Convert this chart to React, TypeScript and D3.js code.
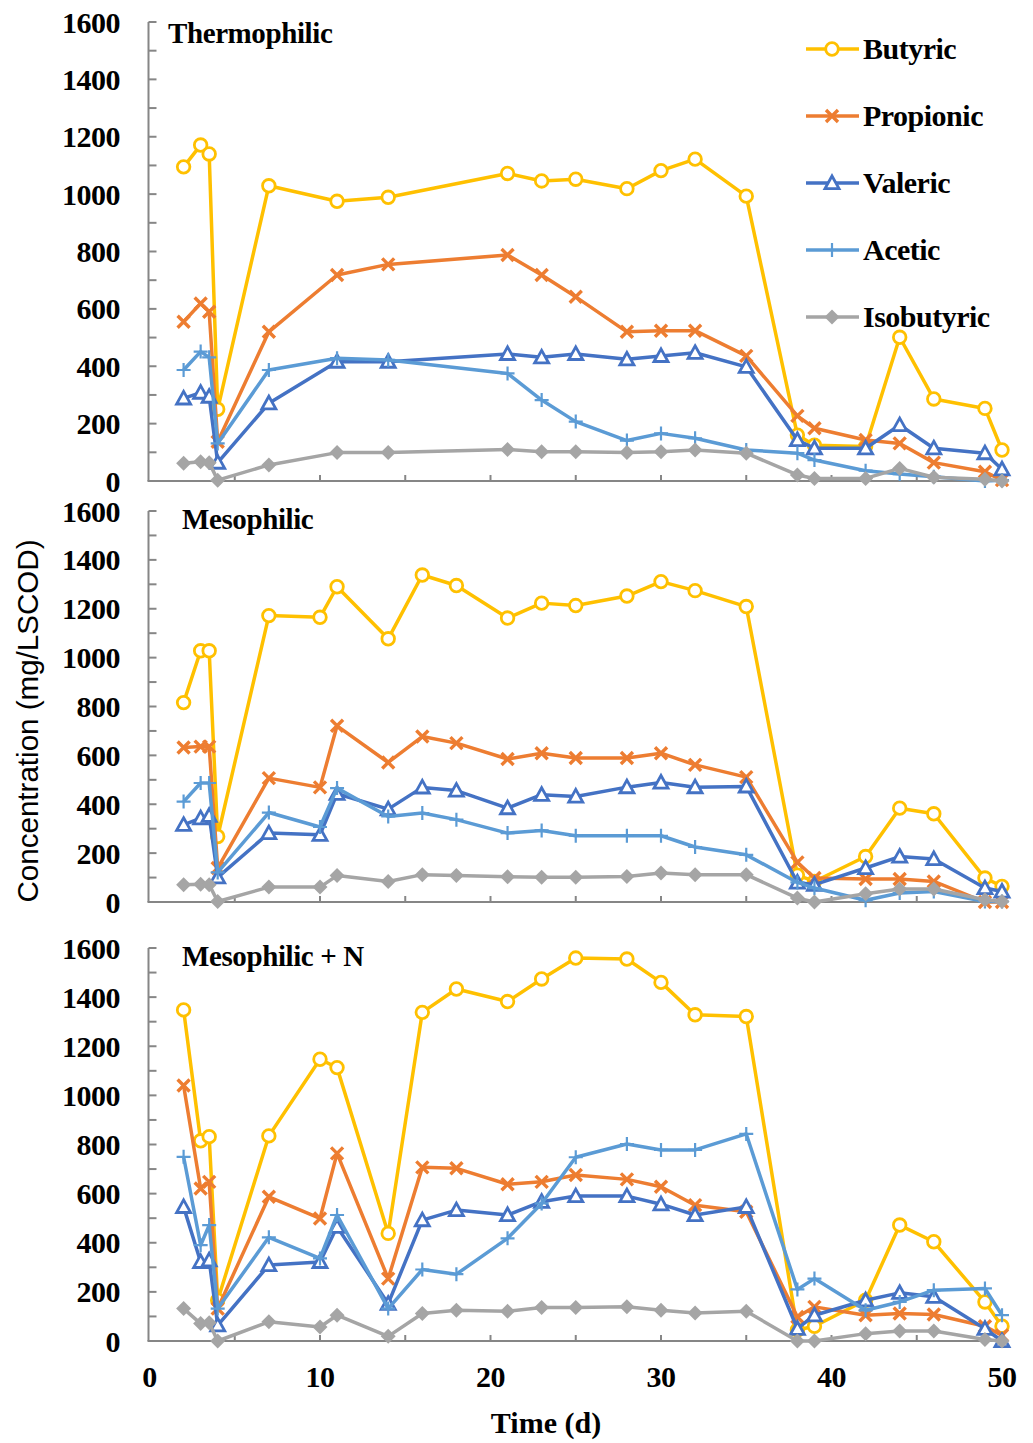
import React from 'react';
import * as d3 from 'd3';

// sampling days
const daysThermo = [2, 3, 3.5, 4, 7, 11, 14, 21, 23, 25, 28, 30, 32, 35, 38, 39, 42, 44, 46, 49, 50];
const daysMeso = [2, 3, 3.5, 4, 7, 10, 11, 14, 16, 18, 21, 23, 25, 28, 30, 32, 35, 38, 39, 42, 44, 46, 49, 50];

const seriesNames = ['Butyric', 'Propionic', 'Valeric', 'Acetic', 'Isobutyric'];
const seriesColors = ['#FFC000', '#ED7D31', '#4472C4', '#5B9BD5', '#A5A5A5'];
const panelTitles = ['Thermophilic', 'Mesophilic', 'Mesophilic + N'];
const yTicks = [0, 200, 400, 600, 800, 1000, 1200, 1400, 1600];
const xTicks = [0, 10, 20, 30, 40, 50];

// Thermophilic
const thermoButyric = [1095, 1171, 1140, 250, 1029, 975, 989, 1072, 1046, 1052, 1019, 1082, 1122, 993, 160, 125, 120, 501, 286, 253, 108];
const thermoPropionic = [555, 619, 590, 137, 520, 718, 755, 788, 718, 642, 520, 524, 524, 436, 227, 184, 143, 131, 64, 32, 3];
const thermoValeric = [288, 308, 294, 64, 271, 416, 416, 443, 431, 443, 424, 436, 447, 398, 143, 114, 114, 195, 114, 97, 41];
const thermoAcetic = [387, 451, 431, 131, 387, 428, 422, 375, 282, 207, 141, 166, 149, 108, 97, 73, 36, 24, 15, 0, 3];
const thermoIsobutyric = [62, 67, 64, 3, 56, 99, 99, 110, 102, 102, 99, 102, 108, 97, 21, 9, 9, 44, 13, 6, 0];

// Mesophilic
const mesoButyric = [816, 1028, 1028, 268, 1172, 1165, 1290, 1077, 1338, 1295, 1162, 1223, 1213, 1252, 1311, 1274, 1209, 110, 84, 186, 384, 361, 98, 64];
const mesoPropionic = [632, 636, 636, 139, 507, 469, 721, 571, 677, 650, 585, 609, 589, 589, 609, 561, 511, 162, 98, 94, 94, 84, 0, 0];
const mesoValeric = [316, 343, 353, 101, 282, 275, 443, 380, 469, 456, 384, 439, 432, 470, 489, 470, 473, 80, 71, 139, 186, 176, 57, 43];
const mesoAcetic = [411, 487, 487, 121, 366, 307, 466, 350, 364, 337, 282, 293, 271, 271, 271, 225, 193, 80, 57, 7, 37, 43, 2, 2];
const mesoIsobutyric = [71, 73, 71, 2, 61, 61, 108, 84, 112, 108, 103, 101, 101, 104, 119, 112, 112, 16, 0, 34, 53, 53, 9, 2];

// Mesophilic + N
const mesoNButyric = [1348, 815, 832, 166, 835, 1147, 1113, 438, 1338, 1433, 1382, 1474, 1559, 1555, 1460, 1328, 1321, 45, 60, 166, 472, 404, 159, 60];
const mesoNPropionic = [1040, 621, 648, 132, 587, 499, 764, 254, 707, 703, 638, 648, 676, 658, 628, 553, 526, 98, 139, 105, 112, 108, 60, 23];
const mesoNValeric = [546, 322, 329, 64, 309, 322, 465, 152, 492, 533, 513, 567, 590, 590, 557, 513, 546, 50, 105, 166, 196, 180, 50, 0];
const mesoNAcetic = [750, 390, 472, 132, 422, 336, 513, 132, 291, 272, 418, 560, 748, 802, 778, 778, 843, 210, 254, 125, 159, 207, 214, 105];
const mesoNIsobutyric = [132, 71, 74, 0, 78, 57, 105, 19, 112, 125, 121, 136, 136, 139, 125, 114, 121, 0, 0, 30, 41, 41, 6, 0];

const panelDays = [daysThermo, daysMeso, daysMeso];
const panelSeries = [
  [thermoButyric, thermoPropionic, thermoValeric, thermoAcetic, thermoIsobutyric],
  [mesoButyric, mesoPropionic, mesoValeric, mesoAcetic, mesoIsobutyric],
  [mesoNButyric, mesoNPropionic, mesoNValeric, mesoNAcetic, mesoNIsobutyric],
];

const W = 1033;
const H = 1443;
const serif = '"Liberation Serif", "Times New Roman", serif';
const axisColor = '#868686';

const Marker = ({ kind, x, y, color }: { kind: number; x: number; y: number; color: string }) => {
  if (kind === 0) {
    return <circle cx={x} cy={y} r={6.3} fill="#fff" stroke={color} strokeWidth={2.8} />;
  }
  if (kind === 1) {
    const s = 6;
    return (
      <path
        d={`M${x - s},${y - s}L${x + s},${y + s}M${x - s},${y + s}L${x + s},${y - s}`}
        stroke={color}
        strokeWidth={3.4}
        fill="none"
      />
    );
  }
  if (kind === 2) {
    const s = 7;
    return (
      <path
        d={`M${x},${y - s}L${x + s},${y + s * 0.8}L${x - s},${y + s * 0.8}Z`}
        fill="#fff"
        stroke={color}
        strokeWidth={2.8}
      />
    );
  }
  if (kind === 3) {
    const s = 7;
    return (
      <path d={`M${x - s},${y}L${x + s},${y}M${x},${y - s}L${x},${y + s}`} stroke={color} strokeWidth={2.2} fill="none" />
    );
  }
  const s = 7.5;
  return <path d={`M${x},${y - s}L${x + s},${y}L${x},${y + s}L${x - s},${y}Z`} fill={color} />;
};

const panelBox = [
  { top: 22, bottom: 481 },
  { top: 511, bottom: 902 },
  { top: 948, bottom: 1341 },
];

const App = () => {
  const x = d3.scaleLinear().domain([0, 50]).range([149.5, 1002]);
  const xMinor = d3.range(0, 51, 5);
  const yMinor = d3.range(0, 1601, 100);

  return (
    <svg
      width={W}
      height={H}
      style={{ display: 'block', position: 'absolute', left: 0, top: 0, background: '#fff' }}
    >
      {panelBox.map((box, pi) => {
        const y = d3.scaleLinear().domain([0, 1600]).range([box.bottom, box.top]);
        const days = panelDays[pi];
        return (
          <g key={pi}>
            {/* axes */}
            <line x1={x(0) - 1} x2={x(0) - 1} y1={y(1600)} y2={y(0)} stroke={axisColor} strokeWidth={2} />
            <line x1={x(0) - 2} x2={x(50) + 4} y1={y(0)} y2={y(0)} stroke={axisColor} strokeWidth={2} />
            {yMinor.map((v) => (
              <line key={v} x1={x(0) - 1} x2={x(0) + 7} y1={y(v)} y2={y(v)} stroke={axisColor} strokeWidth={2} />
            ))}
            {xMinor.slice(1).map((v) => (
              <line key={v} x1={x(v)} x2={x(v)} y1={y(0)} y2={y(0) - 6} stroke={axisColor} strokeWidth={2} />
            ))}
            {yTicks.map((v) => (
              <text
                key={v}
                x={120}
                y={y(v)}
                dy="0.35em"
                textAnchor="end"
                fontFamily={serif}
                fontWeight="bold"
                fontSize={30}
                letterSpacing={-0.5}
              >
                {v}
              </text>
            ))}
            <text
              x={pi === 0 ? 168 : 182}
              y={box.top + (pi === 0 ? 21 : 18)}
              fontFamily={serif}
              fontWeight="bold"
              fontSize={29}
              letterSpacing={-0.4}
            >
              {panelTitles[pi]}
            </text>
            {/* series */}
            {panelSeries[pi].map((vals, si) => {
              const pts: [number, number][] = vals.map((v, i) => [x(days[i]), y(v)]);
              const line = d3.line()(pts) || '';
              return (
                <g key={si}>
                  <path d={line} fill="none" stroke={seriesColors[si]} strokeWidth={3.5} strokeLinejoin="round" />
                  {pts.map((p, i) => (
                    <Marker key={i} kind={si} x={p[0]} y={p[1]} color={seriesColors[si]} />
                  ))}
                </g>
              );
            })}
          </g>
        );
      })}

      {/* x tick labels on bottom panel */}
      {xTicks.map((v) => (
        <text
          key={v}
          x={x(v)}
          y={1387}
          textAnchor="middle"
          fontFamily={serif}
          fontWeight="bold"
          fontSize={30}
          letterSpacing={-0.5}
        >
          {v}
        </text>
      ))}
      <text x={546} y={1433} textAnchor="middle" fontFamily={serif} fontWeight="bold" fontSize={30}>
        Time (d)
      </text>
      <text
        transform="translate(38,721) rotate(-90)"
        textAnchor="middle"
        fontFamily='"Liberation Sans", Arial, sans-serif'
        fontSize={30}
        textLength={363}
        lengthAdjust="spacingAndGlyphs"
      >
        Concentration (mg/LSCOD)
      </text>

      {/* legend */}
      {seriesNames.map((name, si) => {
        const ly = 49 + si * 67;
        return (
          <g key={name}>
            <line x1={806} x2={859} y1={ly} y2={ly} stroke={seriesColors[si]} strokeWidth={3.5} />
            <Marker kind={si} x={832} y={ly} color={seriesColors[si]} />
            <text x={863} y={ly + 10} fontFamily={serif} fontWeight="bold" fontSize={30} letterSpacing={-0.5}>
              {name}
            </text>
          </g>
        );
      })}
    </svg>
  );
};

export default App;
